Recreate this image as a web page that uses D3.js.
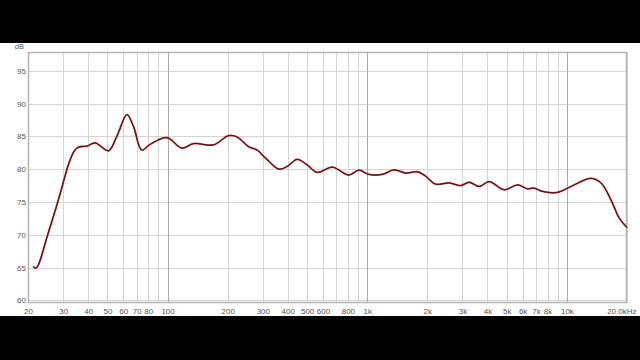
<!DOCTYPE html>
<html>
<head>
<meta charset="utf-8">
<script src="https://cdn.jsdelivr.net/npm/d3@7"></script>
<style>
  html, body { margin: 0; padding: 0; background: #000; }
  svg { display: block; }
</style>
</head>
<body>
<svg id="chart" width="640" height="360"></svg>
<script>
// frequency response
const freqs = [21.2, 21.9, 22.6, 25.1, 28.2, 29.3, 31.3, 32.5, 33.7, 35.1, 37, 39.4, 43.4, 50.6, 55.7, 62.6, 67.5, 74.3,
  81.9, 99.3, 118, 135, 170, 202, 223, 255, 281, 309, 361, 397, 446, 500, 562, 668, 809, 908, 1019,
  1191, 1362, 1559, 1780, 1950, 2204, 2570, 2944, 3239, 3634, 4081, 4851, 5660, 6353, 6859, 7552,
  8974, 10473, 13189, 14810, 16634, 18311, 20000];
const levels = [65.2, 64.9, 65.5, 70.0, 75.0, 76.8, 79.9, 81.4, 82.5, 83.2, 83.45, 83.5, 84.0, 82.8, 85.0, 88.3, 86.5, 82.9,
  83.8, 84.8, 83.2, 83.9, 83.7, 85.1, 84.9, 83.4, 82.9, 81.7, 80.0, 80.4, 81.5, 80.65, 79.5, 80.3, 79.1, 79.85, 79.2,
  79.2, 79.9, 79.4, 79.6, 79.0, 77.7, 77.9, 77.5, 78.0, 77.35, 78.1, 76.85, 77.6, 77.0, 77.1, 76.6,
  76.45, 77.35, 78.6, 77.9, 75.3, 72.5, 71.1];

const gridFreqs = [20, 30, 40, 50, 60, 70, 80, 90, 100, 200, 300, 400, 500, 600, 700, 800, 900, 1000,
  2000, 3000, 4000, 5000, 6000, 7000, 8000, 9000, 10000, 20000];
const majorFreqs = [100, 1000, 10000];
const xTickValues = [20, 30, 40, 50, 60, 70, 80, 100, 200, 300, 400, 500, 600, 800, 1000,
  2000, 3000, 4000, 5000, 6000, 7000, 8000, 10000, 20000];
const xTickLabels = ['20', '30', '40', '50', '60', '70', '80', '100', '200', '300', '400', '500', '600', '800', '1k',
  '2k', '3k', '4k', '5k', '6k', '7k', '8k', '10k', '20.0kHz'];
const yTickValues = [60, 65, 70, 75, 80, 85, 90, 95];

const margin = {
  top: 52, right: 13, bottom: 57, left: 28,
};
const width = 640 - margin.left - margin.right;
const height = 360 - margin.top - margin.bottom;
const labelFont = '"Liberation Sans", Arial, sans-serif';

const svg = d3.select('#chart');

// letterbox: white band between black bars
svg.append('rect')
  .attr('x', 0)
  .attr('y', 43)
  .attr('width', 640)
  .attr('height', 273)
  .attr('fill', '#fff');

const chart = svg.append('g')
  .attr('transform', `translate(${margin.left},${margin.top})`);

const x = d3.scaleLog()
  .domain([20, 20000])
  .range([0, width]);

const y = d3.scaleLinear()
  .domain([59.6, 97.85])
  .range([height, 0]);

// grid
chart.append('g')
  .selectAll('line')
  .data(yTickValues)
  .join('line')
  .attr('x1', 0)
  .attr('x2', width)
  .attr('y1', (d) => Math.round(y(d)) + 0.5)
  .attr('y2', (d) => Math.round(y(d)) + 0.5)
  .attr('stroke', '#d4d4d4');

chart.append('g')
  .selectAll('line')
  .data(gridFreqs)
  .join('line')
  .attr('x1', (d) => Math.round(x(d)) + 0.5)
  .attr('x2', (d) => Math.round(x(d)) + 0.5)
  .attr('y1', 0)
  .attr('y2', height)
  .attr('stroke', (d) => (majorFreqs.includes(d) ? '#a8a8a8' : '#d4d4d4'));

// frame
chart.append('rect')
  .attr('x', 0.5)
  .attr('y', 0.5)
  .attr('width', width - 1)
  .attr('height', height - 1)
  .attr('fill', 'none')
  .attr('stroke', '#b4b4b4')
  .attr('stroke-width', 1.5);

// axis labels
const yAxis = chart.append('g')
  .call(d3.axisLeft(y).tickValues(yTickValues).tickSize(0).tickPadding(2));
yAxis.select('.domain').remove();
yAxis.selectAll('text')
  .style('font-family', labelFont)
  .style('font-size', '8px')
  .attr('fill', '#555');

const xAxis = chart.append('g')
  .attr('transform', `translate(0,${height})`)
  .call(d3.axisBottom(x).tickValues(xTickValues).tickSize(0).tickPadding(5)
    .tickFormat((d, i) => xTickLabels[i]));
xAxis.select('.domain').remove();
xAxis.selectAll('text')
  .style('font-family', labelFont)
  .style('font-size', '8px')
  .attr('fill', '#555')
  .attr('text-anchor', (d) => (d === 20000 ? 'end' : 'middle'))
  .attr('dx', (d) => (d === 20000 ? 9 : 0));

chart.append('text')
  .attr('x', -4)
  .attr('y', -3)
  .attr('text-anchor', 'end')
  .style('font-family', labelFont)
  .style('font-size', '7.5px')
  .attr('fill', '#555')
  .text('dB');

// response curve
const line = d3.line()
  .x((d, i) => x(freqs[i]))
  .y((d) => y(d))
  .curve(d3.curveCatmullRom.alpha(0.5));

chart.append('path')
  .datum(levels)
  .attr('d', line)
  .attr('fill', 'none')
  .attr('stroke', '#b02828')
  .attr('stroke-width', 1.8);

chart.append('path')
  .datum(levels)
  .attr('d', line)
  .attr('fill', 'none')
  .attr('stroke', '#4a1010')
  .attr('stroke-width', 0.9);
</script>
</body>
</html>
